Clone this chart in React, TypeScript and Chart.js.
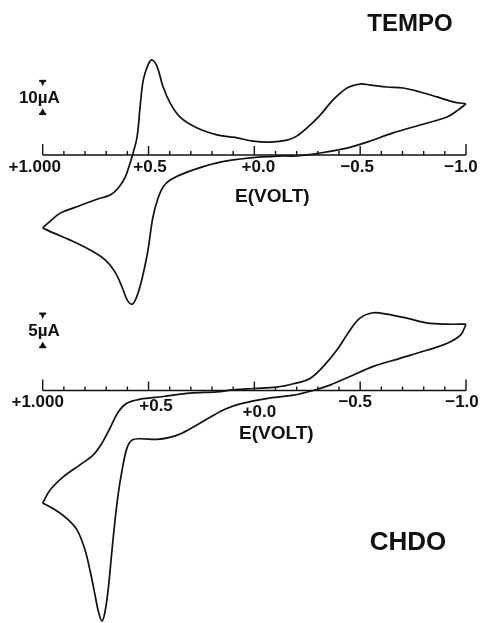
import React, { useEffect, useRef } from "react";
import { Chart, registerables } from "chart.js";

Chart.register(...registerables);

// ---------- DATA ----------
// TEMPO cyclic voltammogram (E in V, current in µA, "up" positive)
const tempoForwardE = [1.0, 0.931, 0.903, 0.823, 0.743, 0.681, 0.643, 0.61, 0.587, 0.573, 0.554, 0.54, 0.525, 0.502, 0.483, 0.459, 0.431, 0.398, 0.351, 0.27, 0.176, 0.115, 0.082, 0.006, -0.074, -0.155, -0.202, -0.249, -0.311, -0.372, -0.438, -0.499, -0.547, -0.627, -0.703, -0.783, -0.863, -0.939, -1.0];
const tempoForwardI = [-22.1, -18.2, -17.2, -15.3, -13.4, -12.1, -10.0, -6.7, -2.4, 0.6, 5.5, 14.5, 22.7, 27.3, 28.8, 26.7, 20.6, 15.8, 11.5, 8.2, 6.1, 5.5, 5.2, 4.2, 3.9, 4.5, 5.8, 8.2, 12.1, 16.7, 20.3, 21.5, 21.2, 20.6, 20.3, 19.1, 17.6, 16.1, 15.5];
const tempoReverseE = [-1.0, -0.962, -0.91, -0.783, -0.655, -0.532, -0.438, -0.311, -0.202, -0.136, 0.02, 0.176, 0.318, 0.398, 0.431, 0.455, 0.48, 0.504, 0.532, 0.556, 0.577, 0.601, 0.625, 0.658, 0.705, 0.776, 0.87, 0.95, 1.0];
const tempoReverseI = [15.5, 13.6, 11.5, 9.1, 6.7, 3.9, 2.1, 0.6, -0.3, -0.3, -0.9, -2.4, -5.2, -7.6, -9.7, -13.0, -19.1, -29.4, -37.9, -43.0, -45.2, -43.9, -40.0, -35.5, -31.8, -28.8, -25.8, -23.6, -22.1];

// CHDO cyclic voltammogram
const chdoForwardE = [1.0, 0.966, 0.903, 0.824, 0.761, 0.721, 0.682, 0.643, 0.603, 0.54, 0.43, 0.304, 0.178, 0.1, 0.005, -0.106, -0.184, -0.263, -0.326, -0.389, -0.452, -0.499, -0.562, -0.625, -0.72, -0.814, -0.909, -1.0];
const chdoForwardI = [-16.8, -14.9, -12.9, -11.1, -9.6, -7.9, -5.6, -3.2, -1.9, -1.3, -0.9, -0.4, -0.2, 0.1, 0.3, 0.5, 1.0, 1.8, 3.6, 6.0, 9.0, 10.8, 11.6, 11.4, 10.8, 10.1, 9.9, 9.9];
const chdoReverseE = [-1.0, -0.975, -0.909, -0.814, -0.688, -0.562, -0.452, -0.357, -0.278, -0.184, -0.058, 0.067, 0.139, 0.209, 0.28, 0.351, 0.399, 0.46, 0.54, 0.578, 0.602, 0.625, 0.644, 0.663, 0.677, 0.691, 0.706, 0.72, 0.736, 0.753, 0.772, 0.8, 0.838, 0.89, 0.942, 1.0];
const chdoReverseI = [9.9, 8.3, 7.0, 6.0, 4.8, 3.6, 2.1, 0.8, 0.0, -0.7, -1.2, -2.0, -2.8, -4.0, -5.3, -6.5, -7.0, -7.3, -7.2, -7.4, -8.6, -11.9, -15.6, -20.8, -25.3, -29.8, -33.1, -34.4, -33.1, -30.5, -27.5, -23.8, -20.8, -19.0, -17.8, -16.8];

// Axis ticks (V)
const tickValues = [1.0, 0.9, 0.8, 0.7, 0.6, 0.5, 0.4, 0.3, 0.2, 0.1, 0.0, -0.1, -0.2, -0.3, -0.4, -0.5, -0.6, -0.7, -0.8, -0.9, -1.0];
const majorTickValues = [1.0, 0.5, 0.0, -0.5, -1.0];
const majorTickLabels = ["+1.000", "+0.5", "+0.0", "\u22120.5", "\u22121.0"];
const axisTitle = "E(VOLT)";
const panelNames = ["TEMPO", "CHDO"];
const scaleBarNumbers = ["10", "5"];
const scaleBarUnit = "\u00b5A";
const scaleBarRanges = [[12.5, 22.5], [6.5, 11.5]]; // µA

// ---------- LAYOUT / STYLE ----------
const W = 482;
const H = 623;
const X_LEFT_PX = 42.7;   // pixel of +1.0 V
const X_RIGHT_PX = 466;   // pixel of -1.0 V
const pxPerVolt = (X_RIGHT_PX - X_LEFT_PX) / 2;
const xMax = 1.0 + X_LEFT_PX / pxPerVolt;
const xMin = xMax - W / pxPerVolt;

const TOP_AXIS_PX = 155;
const TOP_PX_PER_UA = 3.3;
const BOT_AXIS_PX = 390.5;
const BOT_PX_PER_UA = 6.7;

const FONT = '"Liberation Sans", Arial, Helvetica, sans-serif';
const INK = "#111";

type PanelStyle = {
  yId: string;
  labelDx: number[];
  labelDy: number[];
  titleDx: number;
  titleDy: number;
  name: string;
  nameX: number;
  nameY: number;
  nameSize: number;
  bar: number[];
  barNumber: string;
  barTextDy: number;
};

const panels: PanelStyle[] = [
  {
    yId: "yTop",
    labelDx: [-8, 1.5, 4, -3, -5],
    labelDy: [12, 12, 12, 12, 12],
    titleDx: 18,
    titleDy: 42,
    name: panelNames[0],
    nameX: 410,
    nameY: 24,
    nameSize: 24,
    bar: scaleBarRanges[0],
    barNumber: scaleBarNumbers[0],
    barTextDy: 1,
  },
  {
    yId: "yBot",
    labelDx: [-5, 7.5, 5, -5, -4],
    labelDy: [11.5, 16, 22, 11.5, 11.5],
    titleDx: 22,
    titleDy: 43.5,
    name: panelNames[1],
    nameX: 408,
    nameY: 543,
    nameSize: 26,
    bar: scaleBarRanges[1],
    barNumber: scaleBarNumbers[1],
    barTextDy: 1,
  },
];

const cvPlugin = {
  id: "cvAxes",
  afterDatasetsDraw(chart: any) {
    const ctx: CanvasRenderingContext2D = chart.ctx;
    const xs = chart.scales.x;
    ctx.save();
    ctx.strokeStyle = INK;
    ctx.fillStyle = INK;
    for (const p of panels) {
      const ys = chart.scales[p.yId];
      const y0 = ys.getPixelForValue(0);
      // axis line
      ctx.lineWidth = 1.6;
      ctx.beginPath();
      ctx.moveTo(xs.getPixelForValue(1.0), y0);
      ctx.lineTo(xs.getPixelForValue(-1.0), y0);
      ctx.stroke();
      // ticks (pointing up)
      ctx.lineWidth = 1.4;
      for (const v of tickValues) {
        const isEnd = Math.abs(Math.abs(v) - 1) < 1e-9;
        const isMajor = majorTickValues.some((m) => Math.abs(m - v) < 1e-9);
        const len = isEnd ? 11 : isMajor ? 9 : 4;
        const px = xs.getPixelForValue(v);
        ctx.beginPath();
        ctx.moveTo(px, y0);
        ctx.lineTo(px, y0 - len);
        ctx.stroke();
      }
      // tick labels
      ctx.font = `bold 17px ${FONT}`;
      ctx.textAlign = "center";
      ctx.textBaseline = "middle";
      majorTickValues.forEach((v, i) => {
        const px = xs.getPixelForValue(v);
        ctx.fillText(majorTickLabels[i], px + p.labelDx[i], y0 + p.labelDy[i]);
      });
      // axis title
      ctx.font = `bold 19px ${FONT}`;
      ctx.fillText(axisTitle, xs.getPixelForValue(0) + p.titleDx, y0 + p.titleDy);
      // panel name
      ctx.font = `bold ${p.nameSize}px ${FONT}`;
      ctx.fillText(p.name, p.nameX, p.nameY);
      // scale bar
      const bx = xs.getPixelForValue(1.0);
      const yT = ys.getPixelForValue(p.bar[1]);
      const yB = ys.getPixelForValue(p.bar[0]);
      ctx.fillRect(bx - 3.5, yT - 0.9, 7, 2);
      ctx.beginPath();
      ctx.moveTo(bx - 2.2, yT + 0.5);
      ctx.lineTo(bx + 2.2, yT + 0.5);
      ctx.lineTo(bx, yT + 5.5);
      ctx.closePath();
      ctx.fill();
      ctx.beginPath();
      ctx.moveTo(bx - 3, yB);
      ctx.lineTo(bx + 3, yB);
      ctx.lineTo(bx, yB - 5.5);
      ctx.closePath();
      ctx.fill();
      ctx.fillRect(bx - 3.5, yB - 0.7, 7, 2);
      // label: number, then µA with µ centred on the bar
      ctx.font = `bold 17px ${FONT}`;
      ctx.textAlign = "left";
      const numW = ctx.measureText(p.barNumber).width;
      const muW = ctx.measureText("\u00b5").width;
      const startX = bx - numW - muW / 2;
      const ty = (yT + yB) / 2 + p.barTextDy;
      ctx.fillText(p.barNumber + scaleBarUnit, startX, ty);
    }
    ctx.restore();
  },
};

function toPoints(xsArr: number[], ysArr: number[]) {
  return xsArr.map((x, i) => ({ x, y: ysArr[i] }));
}

export default function App() {
  const canvasRef = useRef<HTMLCanvasElement | null>(null);

  useEffect(() => {
    if (!canvasRef.current) return;
    const lineStyle = {
      showLine: true,
      borderColor: INK,
      borderWidth: 1.7,
      pointRadius: 0,
      tension: 0.35,
      fill: false,
    };
    const chart = new Chart(canvasRef.current, {
      type: "scatter",
      data: {
        datasets: [
          { ...lineStyle, label: "TEMPO fwd", data: toPoints(tempoForwardE, tempoForwardI), xAxisID: "x", yAxisID: "yTop" },
          { ...lineStyle, label: "TEMPO rev", data: toPoints(tempoReverseE, tempoReverseI), xAxisID: "x", yAxisID: "yTop" },
          { ...lineStyle, label: "CHDO fwd", data: toPoints(chdoForwardE, chdoForwardI), xAxisID: "x", yAxisID: "yBot" },
          { ...lineStyle, label: "CHDO rev", data: toPoints(chdoReverseE, chdoReverseI), xAxisID: "x", yAxisID: "yBot" },
        ],
      },
      options: {
        animation: false,
        responsive: false,
        events: [],
        layout: { padding: 0 },
        plugins: {
          legend: { display: false },
          tooltip: { enabled: false },
        },
        scales: {
          x: { type: "linear", reverse: true, min: xMin, max: xMax, display: false },
          yTop: {
            type: "linear",
            position: "left",
            min: TOP_AXIS_PX / TOP_PX_PER_UA - H / TOP_PX_PER_UA,
            max: TOP_AXIS_PX / TOP_PX_PER_UA,
            display: false,
          },
          yBot: {
            type: "linear",
            position: "left",
            min: BOT_AXIS_PX / BOT_PX_PER_UA - H / BOT_PX_PER_UA,
            max: BOT_AXIS_PX / BOT_PX_PER_UA,
            display: false,
          },
        },
      } as any,
      plugins: [cvPlugin],
    });
    return () => chart.destroy();
  }, []);

  return (
    <div style={{ position: "absolute", left: 0, top: 0, width: W, height: H, background: "#fff" }}>
      <canvas ref={canvasRef} width={W} height={H} style={{ width: W, height: H, display: "block" }} />
    </div>
  );
}
